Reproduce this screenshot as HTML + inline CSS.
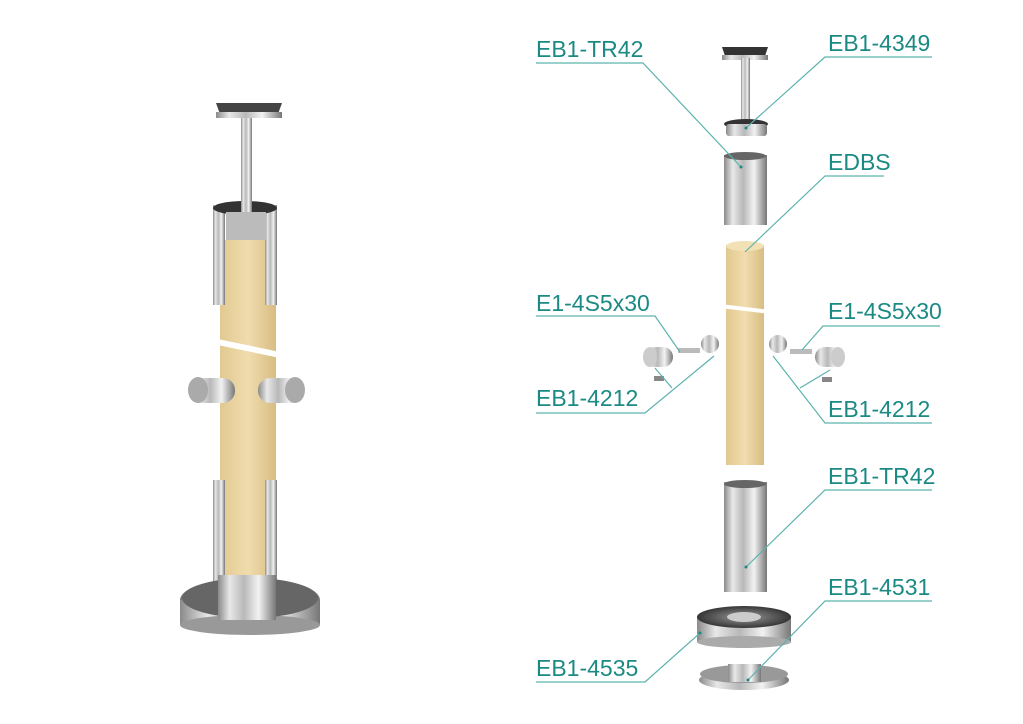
<!DOCTYPE html>
<html><head><meta charset="utf-8"><style>
html,body{margin:0;padding:0;background:#fff;width:1023px;height:724px;overflow:hidden}
text{font-family:"Liberation Sans",sans-serif;font-size:23px;fill:#1b8a84}
</style></head><body>
<svg width="1023" height="724" viewBox="0 0 1023 724" xmlns="http://www.w3.org/2000/svg">
<defs>
<linearGradient id="st" x1="0" x2="1" y1="0" y2="0">
<stop offset="0" stop-color="#8a8a8a"/><stop offset=".2" stop-color="#e8e8e8"/><stop offset=".45" stop-color="#b8b8b8"/><stop offset=".7" stop-color="#f2f2f2"/><stop offset="1" stop-color="#777"/>
</linearGradient>
<linearGradient id="wd" x1="0" x2="1" y1="0" y2="0">
<stop offset="0" stop-color="#e2c990"/><stop offset=".5" stop-color="#f0dcae"/><stop offset="1" stop-color="#d8bd82"/>
</linearGradient>
<radialGradient id="dk" cx=".5" cy=".5" r=".6"><stop offset="0" stop-color="#999"/><stop offset="1" stop-color="#222"/></radialGradient>
</defs>

<!-- LEFT ASSEMBLED -->
<rect x="220" y="240" width="56" height="340" fill="url(#wd)"/>
<rect x="213" y="205" width="12" height="100" fill="url(#st)"/>
<rect x="265" y="205" width="12" height="100" fill="url(#st)"/>
<rect x="213" y="480" width="12" height="110" fill="url(#st)"/>
<rect x="265" y="480" width="12" height="110" fill="url(#st)"/>
<ellipse cx="245" cy="208" rx="32" ry="7" fill="#333"/>
<rect x="226" y="212" width="40" height="28" fill="#bbb"/>
<rect x="241" y="112" width="11" height="100" fill="url(#st)"/>
<path d="M216 103 L282 103 L278 114 L220 114 Z" fill="#444"/>
<rect x="216" y="112" width="66" height="6" fill="url(#st)"/>
<polygon points="213,338 280,352 280,358 213,344" fill="#fff"/>
<rect x="190" y="378" width="45" height="25" rx="12" fill="url(#st)"/>
<ellipse cx="198" cy="390" rx="10" ry="13" fill="#aaa"/>
<rect x="258" y="378" width="45" height="25" rx="12" fill="url(#st)"/>
<ellipse cx="295" cy="390" rx="10" ry="13" fill="#aaa"/>
<ellipse cx="250" cy="600" rx="70" ry="22" fill="#777"/>
<rect x="180" y="600" width="140" height="25" fill="url(#st)"/>
<ellipse cx="250" cy="625" rx="70" ry="10" fill="#999"/>
<ellipse cx="250" cy="598" rx="68" ry="20" fill="#666"/>
<rect x="218" y="575" width="58" height="45" fill="url(#st)"/>

<!-- RIGHT EXPLODED -->
<path d="M722 47 L768 47 L765 56 L725 56 Z" fill="#333"/>
<rect x="722" y="55" width="46" height="5" fill="url(#st)"/>
<rect x="741" y="58" width="9" height="65" fill="url(#st)"/>
<ellipse cx="746" cy="124" rx="22" ry="5" fill="#333"/>
<rect x="726" y="124" width="41" height="12" rx="3" fill="url(#st)"/>
<rect x="724" y="155" width="43" height="70" fill="url(#st)"/>
<ellipse cx="745" cy="156" rx="21" ry="4" fill="#666"/>
<rect x="726" y="245" width="38" height="220" fill="url(#wd)"/>
<ellipse cx="745" cy="246" rx="19" ry="5" fill="#f2e1b5"/>
<polygon points="720,304 770,310 770,314 720,308" fill="#fff"/>
<rect x="724" y="482" width="43" height="110" fill="url(#st)"/>
<ellipse cx="745" cy="484" rx="21" ry="4" fill="#666"/>
<rect x="697" y="616" width="94" height="26" fill="url(#st)"/>
<ellipse cx="744" cy="642" rx="47" ry="6" fill="#aaa"/>
<ellipse cx="744" cy="617" rx="47" ry="11" fill="url(#dk)"/>
<ellipse cx="744" cy="617" rx="17" ry="5" fill="#ccc"/>
<ellipse cx="744" cy="680" rx="45" ry="10" fill="url(#st)"/>
<ellipse cx="744" cy="674" rx="44" ry="9" fill="#999"/>
<rect x="728" y="664" width="33" height="18" fill="url(#st)"/>
<!-- clamps -->
<rect x="645" y="347" width="28" height="20" rx="10" fill="url(#st)"/>
<ellipse cx="650" cy="357" rx="7" ry="10" fill="#ccc"/>
<rect x="678" y="348" width="22" height="5" fill="#bbb"/>
<circle cx="710" cy="344" r="9" fill="url(#st)"/>
<circle cx="778" cy="344" r="9" fill="url(#st)"/>
<rect x="790" y="349" width="22" height="5" fill="#bbb"/>
<rect x="815" y="347" width="28" height="20" rx="10" fill="url(#st)"/>
<ellipse cx="838" cy="357" rx="7" ry="10" fill="#ccc"/>
<rect x="654" y="376" width="10" height="5" fill="#888"/>
<rect x="822" y="377" width="10" height="5" fill="#888"/>

<!-- leader lines -->
<g stroke="#5cb3ae" stroke-width="1.2" fill="none">
<path d="M536 63 H643 L741 167"/>
<path d="M932 57 H825 L746 128"/>
<path d="M884 176 H825 L745 252"/>
<path d="M536 316 H655 L680 352"/>
<path d="M536 413 H645 L714 356"/>
<path d="M655 368 L672 388"/>
<path d="M940 326 H823 L802 350"/>
<path d="M932 423 H825 L773 356"/>
<path d="M800 388 L830 370"/>
<path d="M932 490 H825 L746 567"/>
<path d="M932 601 H825 L748 680"/>
<path d="M536 682 H645 L700 633"/>
</g>
<g fill="#1b8a84"><circle cx="741" cy="167" r="1.5"/><circle cx="746" cy="128" r="1.5"/><circle cx="746" cy="567" r="1.5"/><circle cx="748" cy="680" r="1.5"/><circle cx="700" cy="633" r="1.5"/></g>

<text x="536" y="57">EB1-TR42</text>
<text x="828" y="51">EB1-4349</text>
<text x="828" y="170">EDBS</text>
<text x="536" y="311">E1-4S5x30</text>
<text x="536" y="406">EB1-4212</text>
<text x="828" y="319">E1-4S5x30</text>
<text x="828" y="417">EB1-4212</text>
<text x="828" y="484">EB1-TR42</text>
<text x="828" y="595">EB1-4531</text>
<text x="536" y="676">EB1-4535</text>
</svg>
</body></html>
